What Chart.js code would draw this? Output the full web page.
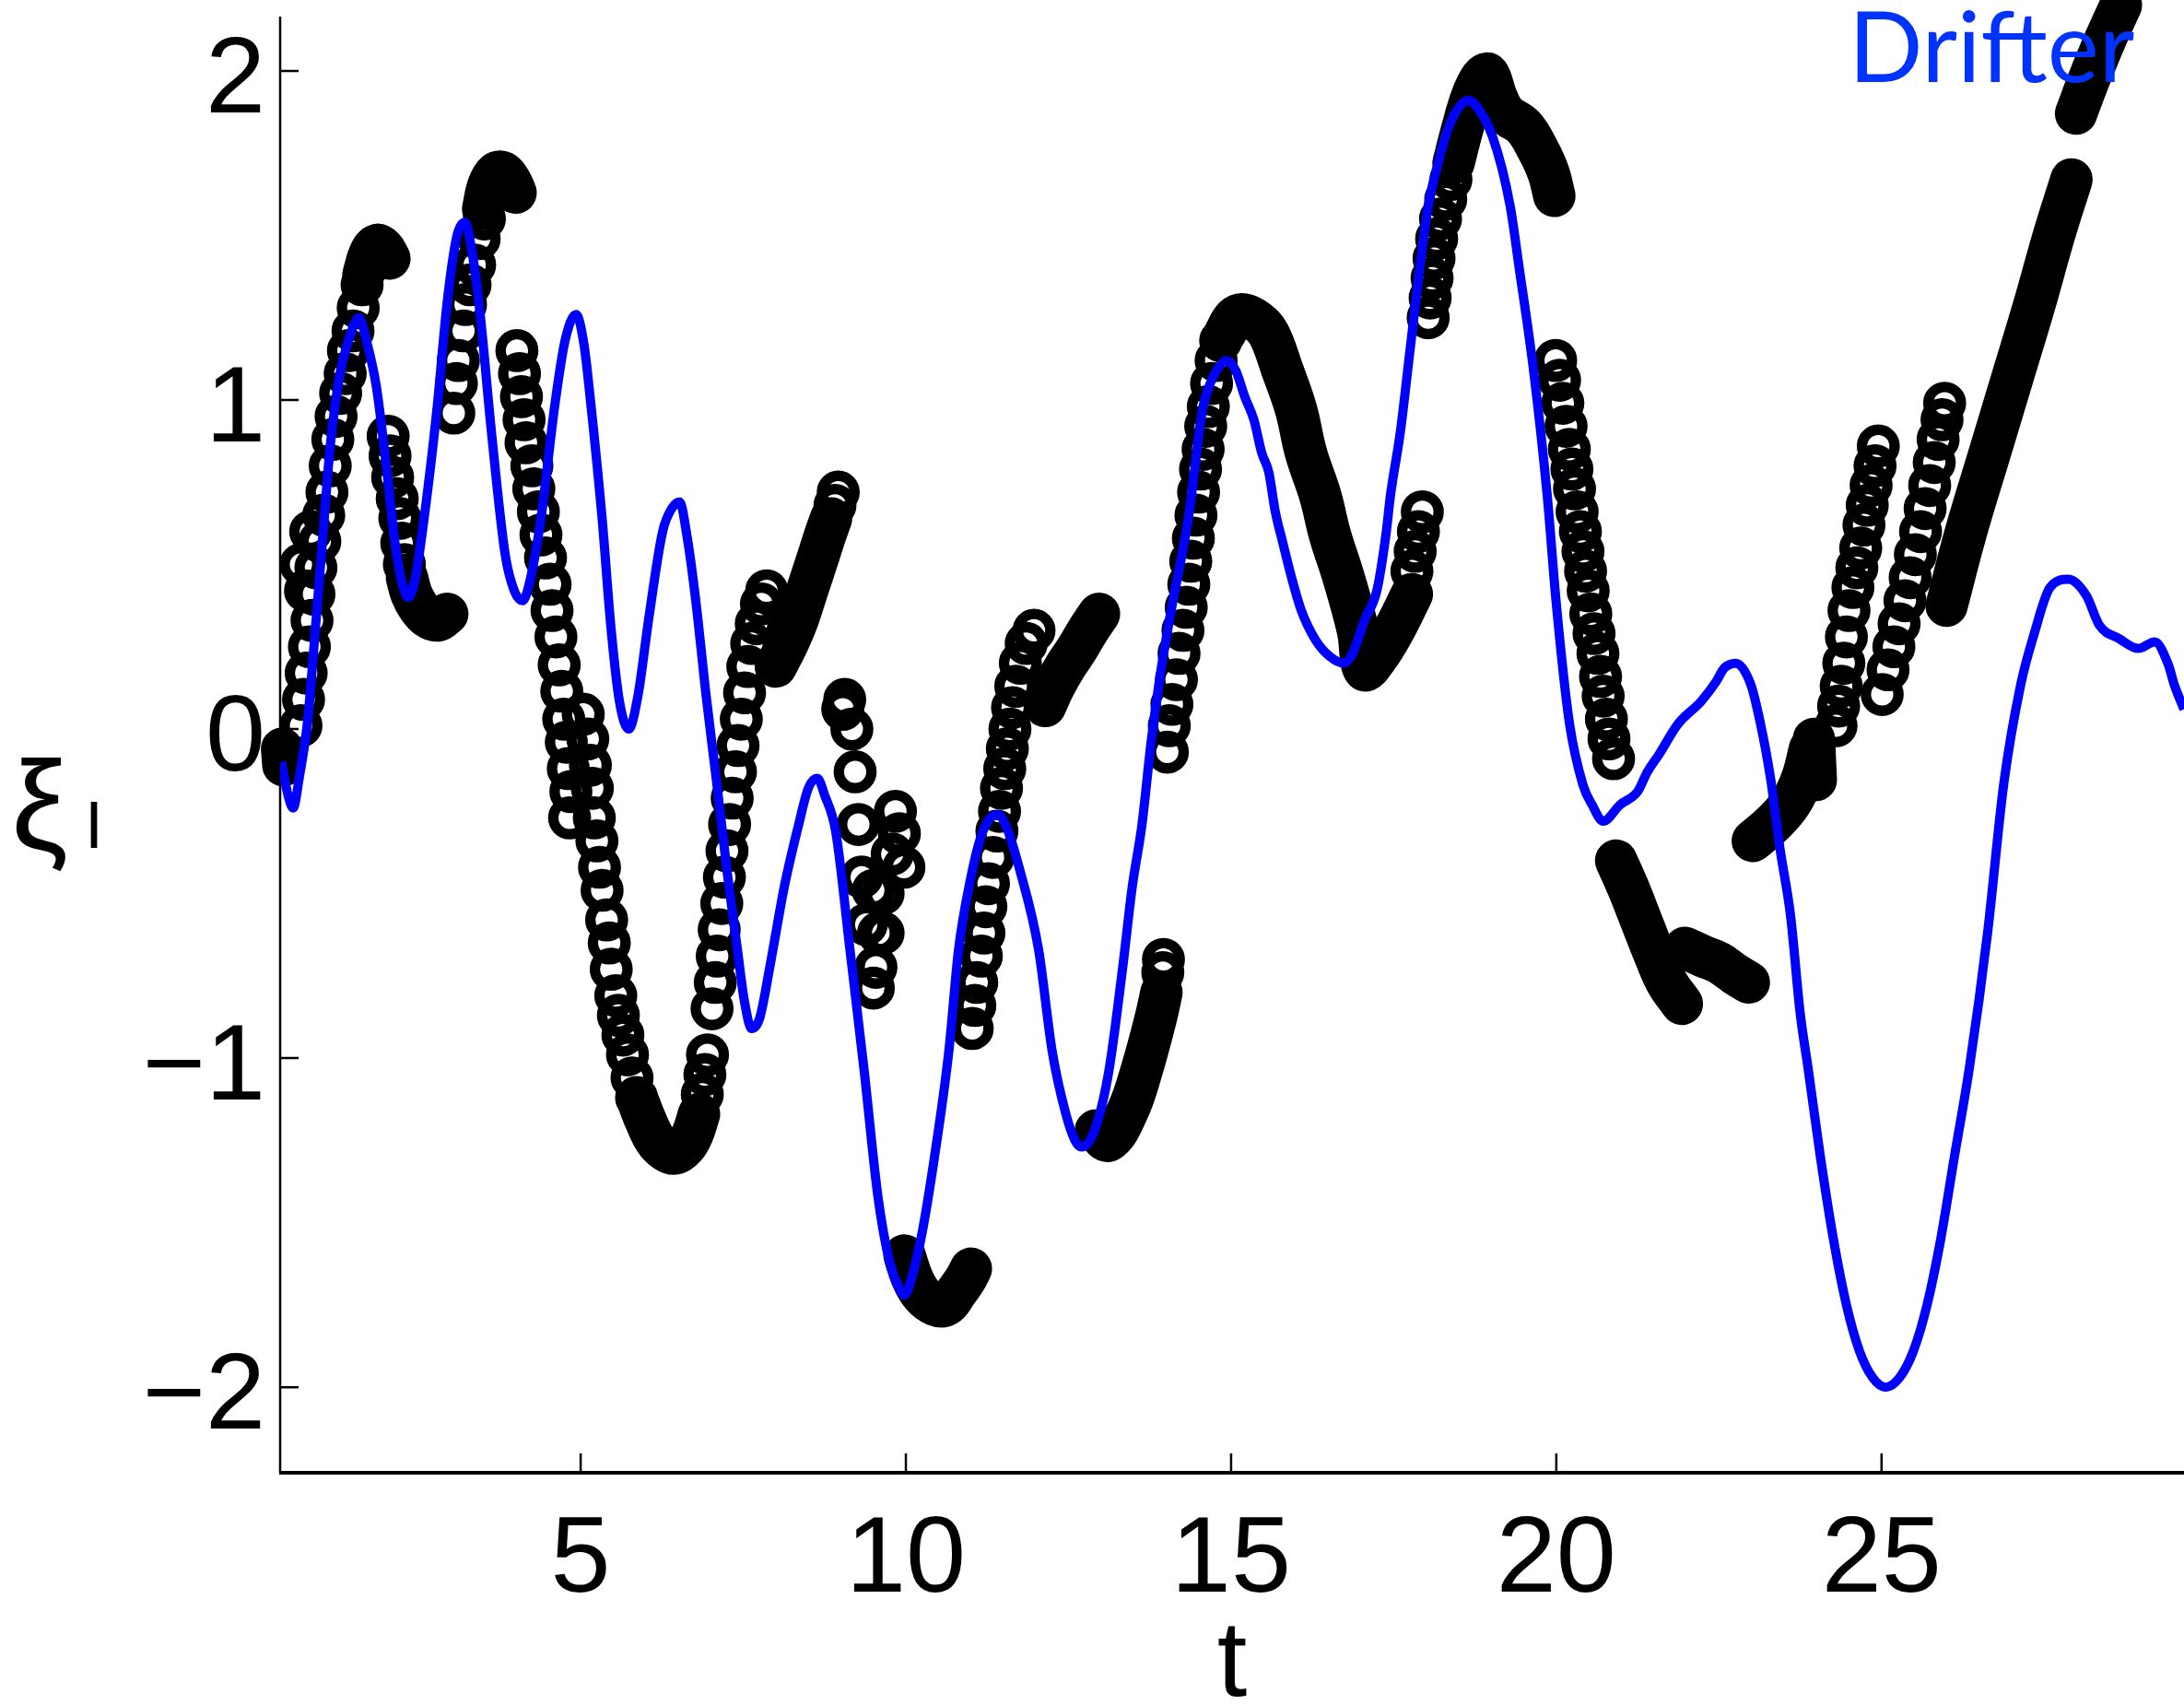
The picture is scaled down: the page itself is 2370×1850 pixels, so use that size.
<!DOCTYPE html>
<html>
<head>
<meta charset="utf-8">
<script src="https://cdn.jsdelivr.net/npm/chart.js@4.4.1/dist/chart.umd.min.js"></script>
<style>
  html, body { margin: 0; padding: 0; background: #fff; overflow: hidden; }
  canvas { display: block; }
</style>
</head>
<body>
<canvas id="xiChart" width="2370" height="1850"></canvas>
<script>
// axis ticks
const tTicks = [5, 10, 15, 20, 25];
const xiTicks = [-2, -1, 0, 1, 2];

// Drifter trace (t, xi)
const drifter = [
  [0.40,-0.10],[0.50,-0.20],[0.58,-0.24],[0.68,-0.14],[0.80,0.02],[0.92,0.30],[1.05,0.62],[1.15,0.86],
  [1.30,1.08],[1.43,1.18],[1.59,1.25],[1.72,1.17],[1.86,1.04],[2.00,0.82],[2.15,0.56],[2.26,0.44],
  [2.35,0.40],[2.45,0.45],[2.58,0.62],[2.79,0.97],[2.95,1.30],[3.10,1.50],[3.22,1.54],[3.33,1.45],
  [3.45,1.27],[3.63,0.90],[3.84,0.53],[3.98,0.42],[4.11,0.39],[4.22,0.45],[4.39,0.64],[4.60,0.98],
  [4.76,1.18],[4.93,1.26],[5.05,1.17],[5.15,1.00],[5.33,0.64],[5.47,0.30],[5.60,0.08],[5.74,0.00],
  [5.88,0.10],[6.05,0.34],[6.26,0.60],[6.40,0.67],[6.52,0.69],[6.64,0.58],[6.77,0.39],[6.93,0.10],
  [7.09,-0.16],[7.25,-0.43],[7.41,-0.67],[7.52,-0.83],[7.63,-0.91],[7.75,-0.88],[7.92,-0.71],[8.13,-0.48],
  [8.34,-0.30],[8.50,-0.18],[8.64,-0.15],[8.75,-0.20],[8.92,-0.31],[9.14,-0.67],[9.36,-1.04],[9.57,-1.42],
  [9.75,-1.62],[9.90,-1.70],[9.98,-1.72],[10.10,-1.66],[10.25,-1.53],[10.44,-1.30],[10.66,-0.98],[10.81,-0.67],
  [10.99,-0.46],[11.15,-0.33],[11.30,-0.27],[11.42,-0.26],[11.55,-0.30],[11.74,-0.42],[12.04,-0.67],[12.25,-0.98],
  [12.46,-1.17],[12.60,-1.25],[12.70,-1.27],[12.90,-1.22],[13.12,-1.04],[13.33,-0.73],[13.48,-0.48],[13.63,-0.29],
  [13.77,-0.04],[13.90,0.15],[14.05,0.33],[14.35,0.65],[14.56,0.97],[14.70,1.06],[14.85,1.11],[14.93,1.12],
  [15.07,1.09],[15.21,1.01],[15.35,0.94],[15.47,0.84],[15.58,0.78],[15.68,0.66],[15.79,0.57],[15.93,0.46],
  [16.08,0.36],[16.30,0.27],[16.52,0.22],[16.73,0.20],[16.87,0.23],[17.05,0.33],[17.24,0.42],[17.38,0.59],
  [17.45,0.71],[17.60,0.90],[17.75,1.15],[17.90,1.40],[18.03,1.59],[18.17,1.71],[18.31,1.81],[18.47,1.88],
  [18.64,1.91],[18.74,1.90],[19.02,1.80],[19.29,1.59],[19.43,1.40],[19.65,1.09],[19.86,0.71],[20.00,0.38],
  [20.20,0.02],[20.41,-0.17],[20.55,-0.23],[20.72,-0.28],[20.98,-0.23],[21.25,-0.19],[21.40,-0.13],[21.57,-0.08],
  [21.87,0.015],[22.23,0.085],[22.46,0.145],[22.58,0.185],[22.76,0.20],[22.99,0.135],[23.14,0.015],[23.29,-0.145],
  [23.44,-0.365],[23.60,-0.565],[23.75,-0.865],[23.87,-1.03],[24.06,-1.30],[24.26,-1.55],[24.46,-1.75],[24.66,-1.89],
  [24.86,-1.97],[25.06,-2.00],[25.28,-1.97],[25.49,-1.89],[25.70,-1.75],[25.91,-1.55],[26.12,-1.30],[26.35,-1.03],
  [26.63,-0.62],[26.88,-0.165],[27.14,0.135],[27.34,0.285],[27.59,0.43],[27.87,0.455],[28.15,0.405],[28.35,0.315],
  [28.65,0.275],[28.95,0.245],[29.20,0.265],[29.41,0.195],[29.50,0.135],[29.65,0.06]
];

// open circle markers (t, xi), one array per run
const ringsA = [[0.70,0.01],[0.74,0.09],[0.78,0.17],[0.83,0.25],[0.87,0.33],[0.90,0.41],[0.93,0.49],[0.99,0.57],
  [1.05,0.65],[1.10,0.72],[1.15,0.80],[1.19,0.88],[1.24,0.95],[1.31,1.02],[1.38,1.08],[1.43,1.15],[1.50,1.21],
  [1.58,1.28],[1.64,1.35],[0.77,0.42],[0.70,0.50],[0.85,0.60]];
const ringsB = [[2.04,0.89],[2.07,0.83],[2.11,0.765],[2.18,0.70],[2.22,0.64],[2.25,0.565],[2.29,0.50]];
const ringsC = [[3.05,0.96],[3.09,1.05],[3.12,1.12],[3.20,1.21],[3.23,1.29],[3.30,1.35],[3.37,1.41],[3.44,1.49],[3.52,1.55]];
const ringsD = [[4.02,1.15],[4.06,1.08],[4.09,1.01],[4.13,0.94],[4.16,0.87],[4.25,0.80],[4.28,0.73],[4.35,0.66],
  [4.39,0.59],[4.46,0.52],[4.53,0.44],[4.56,0.36],[4.62,0.28],[4.67,0.195],[4.71,0.115],[4.74,0.03],[4.78,-0.04],
  [4.81,-0.12],[4.85,-0.19],[4.83,-0.27]];
const ringsD2 = [[5.04,0.045],[5.11,-0.03],[5.15,-0.11],[5.18,-0.18],[5.21,-0.27],[5.25,-0.34],[5.29,-0.42],
  [5.33,-0.49],[5.40,-0.58],[5.44,-0.65],[5.47,-0.73],[5.54,-0.81],[5.58,-0.87],[5.65,-0.93],[5.72,-0.99],
  [5.79,-1.06],[5.86,-1.12],[6.87,-1.11],[6.91,-1.05],[6.95,-0.99]];
const ringsE = [[7.02,-0.85],[7.07,-0.77],[7.10,-0.69],[7.13,-0.61],[7.17,-0.53],[7.21,-0.45],[7.25,-0.37],
  [7.29,-0.29],[7.33,-0.21],[7.38,-0.13],[7.42,-0.05],[7.47,0.03],[7.52,0.11],[7.57,0.19],[7.63,0.26],
  [7.70,0.32],[7.78,0.38],[7.86,0.42],[8.91,0.68],[8.96,0.72]];
const ringsF = [[9.06,0.09],[9.03,0.06],[9.17,0.00],[9.22,-0.13],[9.27,-0.29],[9.32,-0.45],[9.50,-0.49],
  [9.58,-0.62],[9.39,-0.594],[9.54,-0.724],[9.50,-0.787],[9.84,-0.25],[9.90,-0.318],[9.79,-0.38],[9.97,-0.42],
  [9.65,-0.50],[9.65,-0.62]];
const ringsH = [[11.02,-0.91],[11.06,-0.84],[11.09,-0.77],[11.16,-0.69],[11.20,-0.62],[11.23,-0.54],[11.27,-0.47],
  [11.34,-0.39],[11.40,-0.31],[11.44,-0.25],[11.47,-0.18],[11.52,-0.12],[11.56,-0.06],[11.60,0.00],[11.64,0.065],
  [11.69,0.13],[11.76,0.20],[11.85,0.26],[11.97,0.30]];
const ringsI = [[13.95,-0.74],[13.96,-0.70]];
const ringsJ = [[14.02,-0.07],[14.05,0.01],[14.09,0.075],[14.16,0.15],[14.20,0.23],[14.26,0.30],[14.31,0.37],
  [14.35,0.44],[14.38,0.51],[14.42,0.58],[14.46,0.65],[14.50,0.72],[14.53,0.79],[14.57,0.85],[14.61,0.92],
  [14.65,0.98],[14.70,1.05],[14.77,1.12],[14.84,1.18]];
const ringsK = [[17.78,0.48],[17.83,0.54],[17.88,0.60],[17.94,0.66]];
const ringsL = [[18.03,1.25],[18.06,1.31],[18.09,1.37],[18.12,1.43],[18.16,1.49],[18.22,1.55],[18.30,1.61],[18.38,1.67]];
const ringsM = [[19.99,1.12],[20.05,1.06],[20.10,0.99],[20.15,0.92],[20.20,0.85],[20.24,0.79],[20.28,0.73],
  [20.32,0.66],[20.37,0.60],[20.41,0.54],[20.45,0.48],[20.49,0.42],[20.53,0.35],[20.58,0.29],[20.64,0.23],
  [20.68,0.16],[20.72,0.10],[20.77,0.03],[20.81,-0.03],[20.88,-0.09]];
const ringsP = [[24.30,0.01],[24.34,0.07],[24.38,0.13],[24.42,0.20],[24.46,0.28],[24.50,0.36],[24.56,0.43],
  [24.62,0.49],[24.68,0.55],[24.73,0.62],[24.78,0.68],[24.84,0.74],[24.90,0.80],[24.95,0.86]];
const ringsP2 = [[25.01,0.105],[25.10,0.18],[25.19,0.25],[25.27,0.32],[25.36,0.39],[25.44,0.46],[25.52,0.53],
  [25.60,0.60],[25.67,0.67],[25.74,0.74],[25.81,0.81],[25.87,0.88],[25.93,0.94],[25.97,0.99]];

// runs where the markers pile up into a solid band (t, xi)
const bandA0 = [[0.41,-0.06],[0.43,-0.11]];
const bandA = [[1.66,1.38],[1.75,1.44],[1.86,1.47],[1.97,1.46],[2.06,1.43]];
const bandB = [[2.33,0.46],[2.40,0.41],[2.51,0.37],[2.65,0.34],[2.80,0.33],[2.95,0.35]];
const bandC = [[3.50,1.58],[3.58,1.65],[3.70,1.69],[3.82,1.69],[3.93,1.66],[4.00,1.63]];
const bandD = [[5.90,-1.14],[6.00,-1.19],[6.15,-1.25],[6.30,-1.28],[6.45,-1.29],[6.60,-1.27],[6.72,-1.23],[6.82,-1.17]];
const bandE = [[8.00,0.19],[8.18,0.26],[8.33,0.33],[8.48,0.42],[8.63,0.51],[8.76,0.59],[8.85,0.64]];
const bandG = [[9.98,-1.60],[10.10,-1.67],[10.25,-1.72],[10.45,-1.75],[10.62,-1.75],[10.78,-1.71],[10.92,-1.67],[11.00,-1.64]];
const bandH = [[12.14,0.07],[12.28,0.13],[12.45,0.19],[12.62,0.24],[12.80,0.30],[12.97,0.35]];
const bandI = [[12.92,-1.22],[13.12,-1.25],[13.41,-1.16],[13.62,-1.04],[13.84,-0.88],[13.93,-0.80]];
const bandJ = [[14.90,1.20],[15.05,1.25],[15.20,1.26],[15.40,1.24],[15.58,1.20],[15.79,1.09],[16.00,0.97],
  [16.15,0.84],[16.37,0.71],[16.52,0.59],[16.73,0.46],[16.95,0.30],[17.05,0.18],[17.25,0.22],[17.50,0.30],[17.78,0.41]];
const bandL = [[18.42,1.72],[18.55,1.82],[18.70,1.92],[18.85,1.98],[18.95,1.99],[19.08,1.92],[19.22,1.87],
  [19.50,1.83],[19.72,1.76],[19.88,1.69],[19.97,1.62]];
const bandN1 = [[20.92,-0.40],[21.10,-0.48],[21.30,-0.58],[21.50,-0.68],[21.70,-0.77],[21.93,-0.835]];
const bandN2 = [[21.98,-0.665],[22.25,-0.69],[22.50,-0.71],[22.75,-0.745],[22.96,-0.77]];
const bandO = [[23.02,-0.34],[23.34,-0.285],[23.60,-0.225],[23.78,-0.15],[23.90,-0.06]];
const bandO2 = [[23.99,-0.155],[23.96,-0.03]];
const bandQ = [[26.00,0.375],[26.30,0.60],[26.65,0.83],[27.00,1.06],[27.35,1.29],[27.65,1.50],[27.92,1.67]];
const bandR = [[27.99,1.87],[28.20,1.98],[28.45,2.10],[28.68,2.20]];

const toPoints = arr => arr.map(([t, xi]) => ({ x: t, y: xi }));

const rings = [].concat(ringsA, ringsB, ringsC, ringsD, ringsD2, ringsE, ringsF, ringsH,
  ringsI, ringsJ, ringsK, ringsL, ringsM, ringsP, ringsP2);
const bands = [bandA0, bandA, bandB, bandC, bandD, bandE, bandG, bandH, bandI, bandJ,
  bandL, bandN1, bandN2, bandO, bandO2, bandQ, bandR];

const sans = '"Liberation Sans", Arial, sans-serif';
const xiLabel = v => (v < 0 ? '\u2212' + Math.abs(v) : String(v));

// axis lines, inward ticks, tick labels and the free-standing labels
const decorPlugin = {
  id: 'decor',
  beforeDatasetsDraw(chart) {
    const { ctx, chartArea: a, scales: { x, y } } = chart;
    ctx.save();
    ctx.strokeStyle = '#000';
    ctx.lineCap = 'butt';
    ctx.lineWidth = 2.5;
    ctx.beginPath();
    ctx.moveTo(a.left, a.top);
    ctx.lineTo(a.left, a.bottom);
    ctx.stroke();
    ctx.lineWidth = 4;
    ctx.beginPath();
    ctx.moveTo(a.left - 1, a.bottom);
    ctx.lineTo(a.right, a.bottom);
    ctx.stroke();
    ctx.lineWidth = 2.5;
    ctx.beginPath();
    tTicks.forEach(v => {
      const px = x.getPixelForValue(v);
      ctx.moveTo(px, a.bottom);
      ctx.lineTo(px, a.bottom - 21);
    });
    xiTicks.forEach(v => {
      const py = y.getPixelForValue(v);
      ctx.moveTo(a.left, py);
      ctx.lineTo(a.left + 20, py);
    });
    ctx.stroke();

    ctx.fillStyle = '#000';
    ctx.font = '117px ' + sans;
    ctx.textBaseline = 'alphabetic';
    ctx.textAlign = 'center';
    tTicks.forEach(v => ctx.fillText(String(v), x.getPixelForValue(v), a.bottom + 129));
    ctx.textAlign = 'right';
    xiTicks.forEach(v => ctx.fillText(xiLabel(v), a.left - 16, y.getPixelForValue(v) + 45));
    ctx.restore();
  },
  afterDraw(chart) {
    const { ctx, chartArea: a } = chart;
    ctx.save();
    ctx.fillStyle = '#000';
    ctx.textBaseline = 'alphabetic';
    ctx.font = '117px ' + sans;
    ctx.textAlign = 'center';
    ctx.fillText('t', (a.left + a.right) / 2, 1840);
    ctx.textAlign = 'left';
    ctx.font = '138px ' + sans;
    ctx.fillText('\u03BE', 12, 922);
    ctx.font = '72px ' + sans;
    ctx.fillText('I', 92, 920);
    ctx.fillStyle = '#0033ff';
    ctx.font = '106px Lato, "Open Sans", sans-serif';
    ctx.fillText('Drifter', 2006, 89);
    ctx.restore();
  }
};

const ctx = document.getElementById('xiChart').getContext('2d');
new Chart(ctx, {
  type: 'scatter',
  data: {
    datasets: [
      {
        label: 'Drifter',
        data: toPoints(drifter),
        showLine: true,
        borderColor: '#0000ff',
        borderWidth: 10,
        pointRadius: 0,
        cubicInterpolationMode: 'monotone',
        order: 0
      },
      {
        label: 'markers',
        data: toPoints(rings),
        showLine: false,
        pointRadius: 17.7,
        pointHoverRadius: 17.7,
        pointBorderWidth: 11.3,
        pointBorderColor: '#000',
        pointBackgroundColor: 'rgba(0,0,0,0)',
        clip: false,
        order: 1
      },
      ...bands.map((b, i) => ({
        label: 'band' + i,
        data: toPoints(b),
        showLine: true,
        borderColor: '#000',
        borderWidth: 46,
        borderCapStyle: 'round',
        borderJoinStyle: 'round',
        tension: 0.4,
        pointRadius: 0,
        clip: false,
        order: 2
      }))
    ]
  },
  options: {
    responsive: false,
    devicePixelRatio: 1,
    animation: false,
    events: [],
    layout: { autoPadding: false, padding: { top: 18, right: 0, bottom: 252, left: 304 } },
    plugins: {
      legend: { display: false },
      tooltip: { enabled: false }
    },
    scales: {
      x: { type: 'linear', display: false, min: 0.38, max: 29.65 },
      y: { type: 'linear', display: false, min: -2.26, max: 2.165 }
    }
  },
  plugins: [decorPlugin]
});
</script>
</body>
</html>
